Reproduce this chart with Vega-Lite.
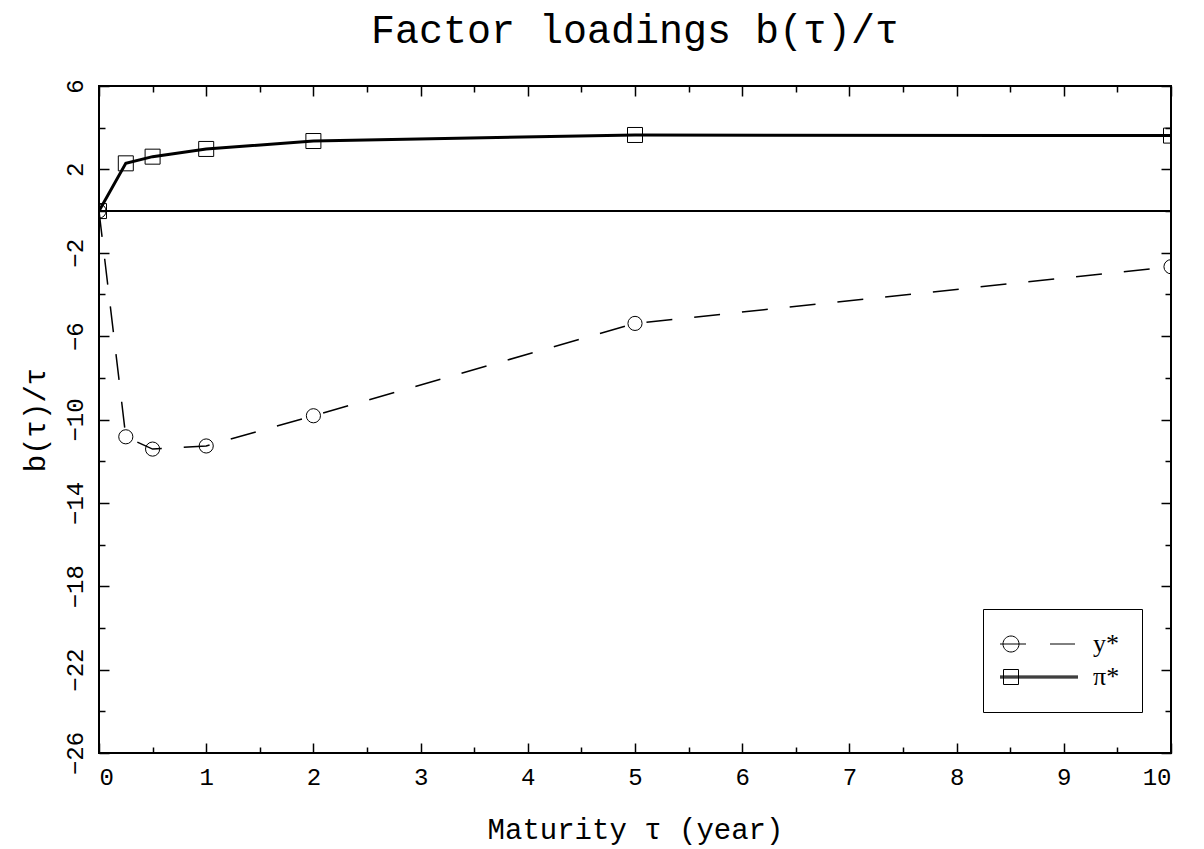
{
  "$schema": "https://vega.github.io/schema/vega-lite/v6.json",
  "width": 1072,
  "height": 667,
  "autosize": {"type": "none"},
  "padding": {"left": 99, "top": 86, "right": 33, "bottom": 96},
  "background": "white",
  "title": {"text": "Factor loadings b(τ)/τ", "font": "Liberation Mono", "fontSize": 40, "fontWeight": "normal", "color": "black", "anchor": "middle", "offset": 28},
  "config": {
    "view": {"stroke": "black", "strokeWidth": 2},
    "axis": {"domain": false, "grid": false, "tickColor": "black", "tickWidth": 1.5, "labelColor": "black", "labelFont": "Liberation Mono", "labelFontSize": 24, "titleFont": "Liberation Mono", "titleFontSize": 29, "titleFontWeight": "normal", "titleColor": "black"}
  },
  "data": {"values": [
    {"tau": 0, "value": 0, "series": "y*"},
    {"tau": 0.25, "value": -10.83, "series": "y*"},
    {"tau": 0.5, "value": -11.42, "series": "y*"},
    {"tau": 1, "value": -11.27, "series": "y*"},
    {"tau": 2, "value": -9.82, "series": "y*"},
    {"tau": 5, "value": -5.39, "series": "y*"},
    {"tau": 10, "value": -2.67, "series": "y*"},
    {"tau": 0, "value": 0, "series": "π*"},
    {"tau": 0.25, "value": 2.29, "series": "π*"},
    {"tau": 0.5, "value": 2.61, "series": "π*"},
    {"tau": 1, "value": 2.98, "series": "π*"},
    {"tau": 2, "value": 3.36, "series": "π*"},
    {"tau": 5, "value": 3.65, "series": "π*"},
    {"tau": 10, "value": 3.62, "series": "π*"}
  ]},
  "layer": [
    {
      "mark": {"type": "rule", "color": "black", "strokeWidth": 1},
      "encoding": {"y": {"datum": 0, "type": "quantitative", "axis": null}}
    },
    {
      "transform": [{"filter": "datum.series === 'y*'"}],
      "mark": {"type": "line", "color": "black", "clip": true, "strokeWidth": 1.5, "strokeDash": [26, 22]},
      "encoding": {
        "x": {"field": "tau", "type": "quantitative", "scale": {"domain": [0, 10], "nice": false, "zero": false},
          "axis": {"orient": "bottom", "title": "Maturity τ (year)", "values": [0,0.5,1,1.5,2,2.5,3,3.5,4,4.5,5,5.5,6,6.5,7,7.5,8,8.5,9,9.5,10],
            "format": "~g",
            "labelExpr": "datum.value % 1 === 0 ? datum.label : ''",
            "tickSize": {"condition": {"test": "datum.value % 1 === 0", "value": -10}, "value": -6},
            "labelPadding": 22, "labelFlush": true, "labelOverlap": false, "titlePadding": 22}},
        "y": {"field": "value", "type": "quantitative", "scale": {"domain": [-26, 6], "nice": false, "zero": false},
          "axis": {"orient": "left", "title": "b(τ)/τ", "values": [-26,-24,-22,-20,-18,-16,-14,-12,-10,-8,-6,-4,-2,0,2,4,6],
            "format": "~g",
            "labelExpr": "(datum.value + 26) % 4 === 0 ? datum.label : ''",
            "tickSize": {"condition": {"test": "(datum.value + 26) % 4 === 0", "value": -10}, "value": -6},
            "labelAngle": 270, "labelPadding": 22, "labelFlush": true, "labelOverlap": false, "titlePadding": 9}}
      }
    },
    {
      "transform": [{"filter": "datum.series === 'π*'"}],
      "mark": {"type": "line", "color": "black", "clip": true, "strokeWidth": 3},
      "encoding": {
        "x": {"field": "tau", "type": "quantitative", "axis": null},
        "y": {"field": "value", "type": "quantitative", "axis": null}
      }
    },
    {
      "transform": [{"filter": "datum.series === 'y*'"}],
      "mark": {"type": "point", "shape": "circle", "filled": false, "color": "black", "strokeWidth": 1, "size": 200, "opacity": 1, "clip": true},
      "encoding": {
        "x": {"field": "tau", "type": "quantitative",
          "axis": {"orient": "top", "title": null, "labels": false, "values": [0,0.5,1,1.5,2,2.5,3,3.5,4,4.5,5,5.5,6,6.5,7,7.5,8,8.5,9,9.5,10],
            "tickSize": {"condition": {"test": "datum.value % 1 === 0", "value": -10}, "value": -6}}},
        "y": {"field": "value", "type": "quantitative",
          "axis": {"orient": "right", "title": null, "labels": false, "values": [-26,-24,-22,-20,-18,-16,-14,-12,-10,-8,-6,-4,-2,0,2,4,6],
            "tickSize": {"condition": {"test": "(datum.value + 26) % 4 === 0", "value": -10}, "value": -6}}}
      }
    },
    {
      "transform": [{"filter": "datum.series === 'π*'"}],
      "mark": {"type": "point", "shape": "square", "filled": false, "color": "black", "strokeWidth": 1, "size": 225, "opacity": 1, "clip": true},
      "encoding": {
        "x": {"field": "tau", "type": "quantitative", "axis": null},
        "y": {"field": "value", "type": "quantitative", "axis": null}
      }
    },
    {
      "transform": [{"filter": "false"}],
      "mark": {"type": "point", "filled": false, "color": "black", "strokeWidth": 1, "opacity": 1},
      "encoding": {
        "x": {"field": "tau", "type": "quantitative", "axis": null},
        "y": {"field": "value", "type": "quantitative", "axis": null},
        "shape": {"field": "series", "type": "nominal",
          "scale": {"domain": ["y*", "π*"], "range": [
            "M-3,0 A1.6,1.6 0 1,0 0.2,0 A1.6,1.6 0 1,0 -3,0 M-3.6,0 L1.6,0 M6.4,0 L11.4,0",
            "M-2.9,-1.5 L0.1,-1.5 L0.1,1.5 L-2.9,1.5 Z M-3.6,-0.2 L12,-0.2 M-3.6,0 L12,0 M-3.6,0.2 L12,0.2"
          ]},
          "legend": {"title": null, "orient": "none", "legendX": 884, "legendY": 523, "fillColor": "white", "strokeColor": "black", "padding": 22, "rowPadding": 7,
            "symbolSize": 100, "symbolStrokeWidth": 1, "symbolStrokeColor": "black", "symbolFillColor": "transparent", "symbolOpacity": 1,
            "labelOffset": 62, "labelFont": "Liberation Serif", "labelFontSize": 26, "labelColor": "black"}}
      }
    }
  ],
  "resolve": {"axis": {"x": "independent", "y": "independent"}}
}
